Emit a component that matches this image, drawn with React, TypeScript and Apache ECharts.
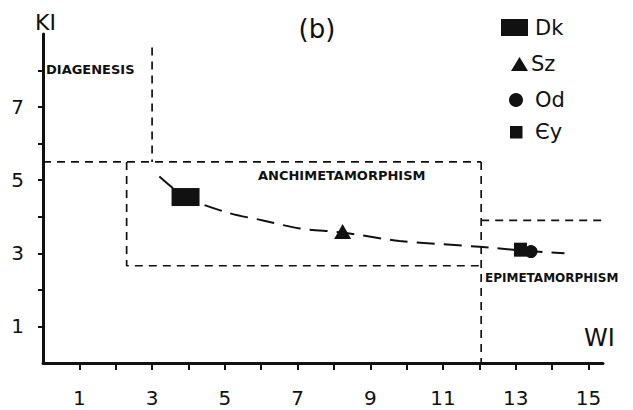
import React, { useEffect, useRef } from "react";
import * as echarts from "echarts";

// ---- data ----
const xTickValues = [1, 2, 3, 4, 5, 6, 7, 8, 9, 10, 11, 12, 13, 14, 15];
const xLabelValues = [1, 3, 5, 7, 9, 11, 13, 15];
const yTickValues = [1, 2, 3, 4, 5, 6, 7, 8];
const yLabelValues = [1, 3, 5, 7];

const diagenesisLine = [[3, 8.63], [3, 5.5]];
const upperLimit = [[0, 5.5], [12.05, 5.5]];
const anchiBox = [[2.3, 5.5], [2.3, 2.66], [12.05, 2.66]];
const epiLimit = [[12.05, 5.5], [12.05, 0]];
const epiTop = [[12.05, 3.9], [15.9, 3.9]];

const trendCurve = [
  [3.2, 5.1], [3.92, 4.54], [5.09, 4.11], [6.05, 3.9], [7.06, 3.68],
  [8.23, 3.57], [9.8, 3.34], [12.0, 3.18], [13.13, 3.08], [14.34, 3.0],
];

const dkPoint = [[3.92, 4.54]];
const szPoint = [[8.24, 3.6]];
const eyPoint = [[13.13, 3.1]];
const odPoint = [[13.42, 3.05]];

const INK = "#111";
const FONT = "DejaVu Sans";

const dashedSeries = (data: number[][], clip = true) => ({
  type: "line",
  data,
  symbol: "none",
  clip,
  silent: true,
  lineStyle: { color: INK, width: 1.7, type: [8, 6] },
});

export default function App() {
  const ref = useRef<HTMLDivElement>(null);
  useEffect(() => {
    if (!ref.current) return;
    const chart = echarts.init(ref.current, null, { renderer: "svg" });
    chart.setOption({
      animation: false,
      backgroundColor: "#fff",
      grid: { left: 43, right: 30, top: 34, bottom: 47 },
      xAxis: {
        type: "value",
        min: 0,
        max: 15.4,
        splitLine: { show: false },
        axisLine: { show: true, lineStyle: { color: INK, width: 3 } },
        axisTick: {
          show: true,
          customValues: xTickValues,
          length: 7,
          lineStyle: { color: INK, width: 2 },
        },
        axisLabel: {
          customValues: xLabelValues,
          margin: 25,
          color: INK,
          fontSize: 20,
          fontFamily: FONT,
        },
      },
      yAxis: {
        type: "value",
        min: 0,
        max: 9,
        splitLine: { show: false },
        axisLine: { show: true, lineStyle: { color: INK, width: 3 } },
        axisTick: {
          show: true,
          customValues: yTickValues,
          length: 5,
          lineStyle: { color: INK, width: 2 },
        },
        axisLabel: {
          customValues: yLabelValues,
          margin: 19,
          color: INK,
          fontSize: 20,
          fontFamily: FONT,
        },
      },
      series: [
        dashedSeries(diagenesisLine),
        dashedSeries(upperLimit),
        dashedSeries(anchiBox),
        dashedSeries(epiLimit),
        dashedSeries(epiTop, false),
        {
          type: "line",
          data: trendCurve,
          symbol: "none",
          smooth: 0.3,
          silent: true,
          lineStyle: { color: INK, width: 2, type: [18, 9] },
          z: 3,
        },
        {
          name: "Dk",
          type: "scatter",
          data: dkPoint,
          symbol: "rect",
          symbolSize: [28, 18],
          itemStyle: { color: INK, opacity: 1 },
          z: 5,
        },
        {
          name: "Sz",
          type: "scatter",
          data: szPoint,
          symbol: "triangle",
          symbolSize: [17, 15],
          itemStyle: { color: INK, opacity: 1 },
          z: 5,
        },
        {
          name: "Od",
          type: "scatter",
          data: odPoint,
          symbol: "circle",
          symbolSize: 13,
          itemStyle: { color: INK, opacity: 1 },
          z: 5,
        },
        {
          name: "Єy",
          type: "scatter",
          data: eyPoint,
          symbol: "rect",
          symbolSize: [13, 14],
          itemStyle: { color: INK, opacity: 1 },
          z: 6,
        },
      ],
      graphic: [
        { type: "text", left: 35, top: 11, style: { text: "KI", fontSize: 22, fontFamily: FONT, fill: INK } },
        { type: "text", left: 584, top: 326, style: { text: "WI", fontSize: 24, fontFamily: FONT, fill: INK } },
        { type: "text", x: 317, y: 29, style: { text: "(b)", fontSize: 26, fontFamily: FONT, fill: INK, align: "center", verticalAlign: "middle" } },
        { type: "text", x: 46, y: 69, style: { text: "DIAGENESIS", fontSize: 13, fontWeight: "bold", fontFamily: FONT, fill: INK, verticalAlign: "middle" } },
        { type: "text", x: 258, y: 175, style: { text: "ANCHIMETAMORPHISM", fontSize: 13, fontWeight: "bold", fontFamily: FONT, fill: INK, verticalAlign: "middle" } },
        { type: "text", x: 485, y: 278, style: { text: "EPIMETAMORPHISM", fontSize: 12, fontWeight: "bold", fontFamily: FONT, fill: INK, verticalAlign: "middle" } },
        // legend
        { type: "rect", shape: { x: 501, y: 19, width: 27, height: 17 }, style: { fill: INK } },
        { type: "text", x: 535, y: 28, style: { text: "Dk", fontSize: 21, fontFamily: FONT, fill: INK, verticalAlign: "middle" } },
        { type: "polygon", shape: { points: [[511, 71], [519.5, 57], [528, 71]] }, style: { fill: INK } },
        { type: "text", x: 531, y: 64, style: { text: "Sz", fontSize: 21, fontFamily: FONT, fill: INK, verticalAlign: "middle" } },
        { type: "circle", shape: { cx: 516, cy: 100, r: 7 }, style: { fill: INK } },
        { type: "text", x: 535, y: 100, style: { text: "Od", fontSize: 21, fontFamily: FONT, fill: INK, verticalAlign: "middle" } },
        { type: "rect", shape: { x: 510, y: 126, width: 12.5, height: 12.5 }, style: { fill: INK } },
        { type: "text", x: 535, y: 132, style: { text: "Єy", fontSize: 21, fontFamily: FONT, fill: INK, verticalAlign: "middle" } },
      ],
    });
    return () => chart.dispose();
  }, []);
  return (
    <div
      ref={ref}
      style={{ position: "fixed", left: 0, top: 0, width: 633, height: 410, background: "#fff" }}
    />
  );
}
